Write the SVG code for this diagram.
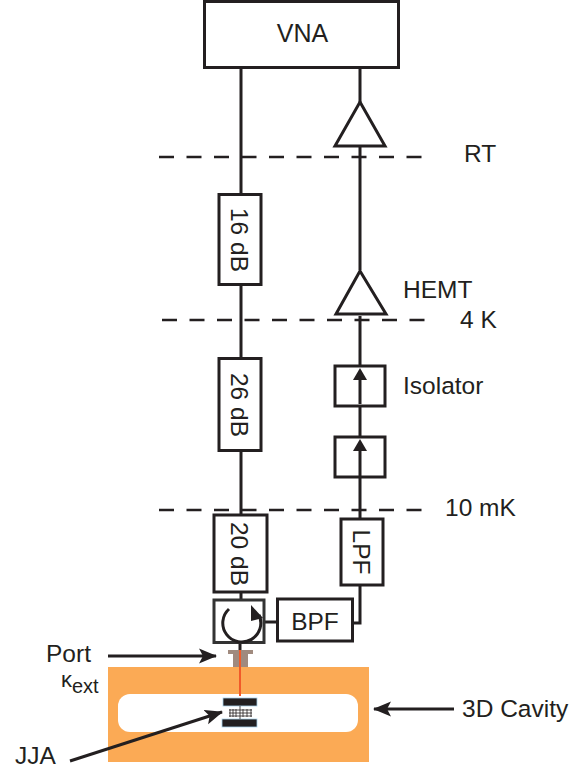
<svg xmlns="http://www.w3.org/2000/svg" width="586" height="769" viewBox="0 0 586 769">
<style>
text{font-family:"Liberation Sans",Arial,sans-serif;font-size:24.5px;fill:#231f20}
.b{fill:#fff;stroke:#231f20;stroke-width:3}
.l{fill:none;stroke:#231f20;stroke-width:3}
.d{fill:none;stroke:#231f20;stroke-width:2.5;stroke-dasharray:15 12.5}
.k{fill:#231f20}
.p{fill:#231f20;stroke:#a9d2ea;stroke-width:.8}
.r{text-anchor:middle}
</style>
<defs>
<marker id="a" markerUnits="userSpaceOnUse" markerWidth="20" markerHeight="16" refX="17" refY="7.500" orient="auto" viewBox="0 0 20 15"><path d="M0 0L18 7.500L0 15L4 7.500Z" fill="#231f20"/></marker>
</defs>
<g id="cavity"><rect x="108" y="667" width="261" height="95" fill="#fbaa55"/><rect x="118" y="694" width="240" height="38" rx="12" fill="#fff"/></g>
<g id="port"><rect x="228" y="650" width="25" height="4" fill="#a08a7e"/><rect x="233" y="654" width="15" height="13" fill="#a08a7e"/><path d="M240 650V696" stroke="#f15a29" stroke-width="2" fill="none"/></g>
<g id="connectors">
<path class="l" d="M241 68V194M241 285V358M241 451V515M241 592V600"/>
<path class="l" d="M360 68V102M360 146V270M360 316V366M360 406V437M360 478V519M360 585V623H353"/>
<path class="l" d="M264 622H277"/>
<path class="l" d="M240 643V650"/>
<path class="d" d="M159 157H428"/>
<path class="d" d="M162 320H430"/>
<path class="d" d="M159 510H426"/>
<path class="l" d="M108 656H216" marker-end="url(#a)"/>
<path class="l" d="M454 709H374" marker-end="url(#a)"/>
<path class="l" d="M70 761L222 712" marker-end="url(#a)"/>
</g>
<g id="vna"><rect class="b" x="204.500" y="1.500" width="194" height="66"/><text class="r" x="302.500" y="42" style="font-size:25px">VNA</text></g>
<g id="amp-rt"><path class="b" d="M360 102L385 146H335Z"/></g>
<g id="amp-hemt"><path class="b" d="M360 271L386 314H336Z"/></g>
<g id="att16"><rect class="b" x="219" y="194.500" width="42" height="90"/><text class="r" transform="translate(231 240) rotate(90)">16 dB</text></g>
<g id="att26"><rect class="b" x="219" y="358.500" width="42" height="92"/><text class="r" transform="translate(231 405) rotate(90)">26 dB</text></g>
<g id="att20"><rect class="b" x="214" y="515" width="53" height="77"/><text class="r" transform="translate(231 554) rotate(90)">20 dB</text></g>
<g id="iso1"><rect class="b" x="335" y="366" width="50" height="40"/><path class="l" d="M360 404V375"/><path class="k" d="M353 380L360 368L367 380Z"/></g>
<g id="iso2"><rect class="b" x="335" y="437" width="50" height="40"/><path class="l" d="M360 476V447"/><path class="k" d="M353 451L360 439L367 451Z"/></g>
<g id="lpf"><rect class="b" x="341" y="519" width="42" height="66"/><text class="r" transform="translate(353 552) rotate(90)">LPF</text></g>
<g id="bpf"><rect class="b" x="277.500" y="599" width="75" height="42"/><text class="r" x="315" y="630">BPF</text></g>
<g id="circulator"><rect x="214" y="600" width="50" height="42.500" fill="#fff" stroke="#333" stroke-width="3"/><path class="l" d="M229 609A19 19 0 1 0 259 615"/><path class="k" d="M251 605L263 618L251 621Z"/></g>
<g id="jja"><rect x="223" y="698" width="34" height="8" class="p"/><rect x="222" y="719" width="35" height="8" class="p"/><path d="M240 706V719M229 710H252M229 713H252M229 716H252M230 709V717M233 709V717M236 709V717M243 709V717M247 709V717M251 709V717" stroke="#231f20" stroke-width=".8" fill="none"/></g>
<g id="labels">
<text x="464" y="162">RT</text><text x="403" y="298">HEMT</text><text x="460" y="328">4 K</text><text x="403" y="394">Isolator</text><text x="445" y="516">10 mK</text><text x="46" y="662">Port</text><text x="61" y="687" style="font-size:22px">κ<tspan style="font-size:20px" dy="6">ext</tspan></text><text x="462" y="717">3D Cavity</text><text x="15" y="764">JJA</text>
</g>
</svg>
